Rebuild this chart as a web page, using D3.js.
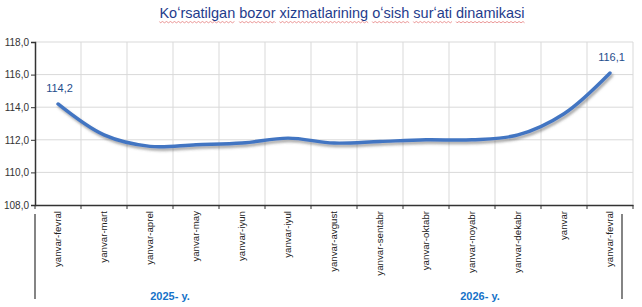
<!DOCTYPE html>
<html><head><meta charset="utf-8">
<script src="https://cdn.jsdelivr.net/npm/d3@7"></script>
<style>body{margin:0;background:#fff}svg{display:block;font-family:"Liberation Sans",Arial,sans-serif}</style>
</head><body>
<svg id="c" width="642" height="307"></svg>
<script>
const title = "Koʻrsatilgan bozor xizmatlarining oʻsish surʻati dinamikasi";
const categories = ["yanvar-fevral","yanvar-mart","yanvar-aprel","yanvar-may","yanvar-iyun","yanvar-iyul","yanvar-avgust","yanvar-sentabr","yanvar-oktabr","yanvar-noyabr","yanvar-dekabr","yanvar","yanvar-fevral "];
const values = [114.2, 112.3, 111.6, 111.7, 111.8, 112.1, 111.8, 111.9, 112.0, 112.0, 112.3, 113.6, 116.1];
const yTicks = [108, 110, 112, 114, 116, 118];
const groups = [{label:"2025- y.", from:0, to:5}, {label:"2026- y.", from:6, to:12}];
const labeled = [0, 12];

const svg = d3.select("#c");
const m = {l:35, r:633, t:42, b:205};
const x = d3.scaleBand().domain(d3.range(categories.length)).range([m.l, m.r]);
const y = d3.scaleLinear().domain([108,118]).range([m.b, m.t]);

const tt = svg.append("text").attr("x",342).attr("y",18).attr("text-anchor","middle")
  .attr("font-size",14.5).attr("fill","#1f3c8c").text(title);
// spell-check style wavy underline under each word
(function(){
  const node = tt.node();
  const words = title.split(" ");
  let idx = 0;
  const g = svg.append("g");
  words.forEach(w => {
    const s = node.getStartPositionOfChar(idx).x;
    const endIdx = idx + w.length - 1;
    const e = node.getEndPositionOfChar(endIdx).x;
    let d = `M${s},21.5`;
    for (let px = s; px < e; px += 2) d += `L${Math.min(px+1,e)},${(px - s) % 4 === 0 ? 22.8 : 21.5}`;
    g.append("path").attr("d", d).attr("fill","none").attr("stroke","#e06060").attr("stroke-width",0.8).attr("opacity",0.8);
    idx += w.length + 1;
  });
})();

// gridlines
svg.append("g").selectAll("line").data(yTicks.slice(1)).join("line")
  .attr("x1",m.l).attr("x2",m.r).attr("y1",d=>y(d)).attr("y2",d=>y(d))
  .attr("stroke","#d9d9d9").attr("stroke-width",1);
const bounds = d3.range(1, categories.length+1).map(i => i<categories.length ? x(i) : m.r);
svg.append("g").selectAll("line").data(bounds).join("line")
  .attr("x1",d=>d).attr("x2",d=>d).attr("y1",m.t).attr("y2",m.b)
  .attr("stroke","#d9d9d9").attr("stroke-width",1);

// y axis
const ya = svg.append("g").attr("transform",`translate(${m.l},0)`)
  .call(d3.axisLeft(y).tickValues(yTicks).tickSize(4).tickFormat(d=>d3.format(".1f")(d).replace(".",",")));
ya.select(".domain").attr("stroke","#333").attr("stroke-width",1.5);
ya.selectAll(".tick line").attr("stroke","#333");
ya.selectAll("text").attr("font-size",10).attr("fill","#333").attr("font-family","Liberation Sans, Arial, sans-serif").attr("x",-6);

// x axis
const xa = svg.append("g").attr("transform",`translate(0,${m.b})`)
  .call(d3.axisBottom(x).tickSize(0).tickFormat(i=>categories[i].trim()));
xa.select(".domain").attr("stroke","#333").attr("stroke-width",1.5);
xa.selectAll("text").attr("font-size",9.7).attr("fill","#222").attr("font-family","Liberation Sans, Arial, sans-serif")
  .attr("transform","rotate(-90)").attr("text-anchor","end").attr("dy","0.32em").attr("x",-6).attr("y",0);
xa.append("g").selectAll("line").data([m.l, ...bounds]).join("line")
  .attr("x1",d=>d).attr("x2",d=>d).attr("y1",0).attr("y2",4).attr("stroke","#333");

// group lines and labels
svg.append("line").attr("x1",m.l).attr("x2",m.l).attr("y1",214).attr("y2",299).attr("stroke","#333").attr("stroke-width",1.2);
svg.append("line").attr("x1",622).attr("x2",622).attr("y1",214).attr("y2",299).attr("stroke","#333").attr("stroke-width",1.2);
svg.selectAll(".grp").data(groups).join("text").attr("class","grp")
  .attr("x",(d,i)=> i===0 ? 170 : 480).attr("y",300).attr("text-anchor","middle")
  .attr("font-size",11).attr("font-weight","bold").attr("fill","#1672c8").text(d=>d.label);

// line
const defs = svg.append("defs");
const f = defs.append("filter").attr("id","sh").attr("x","-10%").attr("y","-10%").attr("width","120%").attr("height","140%");
f.append("feDropShadow").attr("dx",1.5).attr("dy",2.5).attr("stdDeviation",1.3).attr("flood-color","#555").attr("flood-opacity",0.5);
const line = d3.line().x((d,i)=>x(i)+x.bandwidth()/2).y(d=>y(d)).curve(d3.curveCatmullRom.alpha(0.5));
svg.append("path").datum(values).attr("d",line).attr("fill","none")
  .attr("stroke","#4275c2").attr("stroke-width",3.4).attr("stroke-linecap","round").attr("filter","url(#sh)");

svg.selectAll(".dl").data(labeled).join("text").attr("class","dl")
  .attr("x",i=>x(i)+x.bandwidth()/2+1.5).attr("y",i=>y(values[i])-12).attr("text-anchor","middle")
  .attr("font-size",11).attr("fill","#1f4e8c").text(i=>d3.format(".1f")(values[i]).replace(".",","));
</script>
</body></html>
